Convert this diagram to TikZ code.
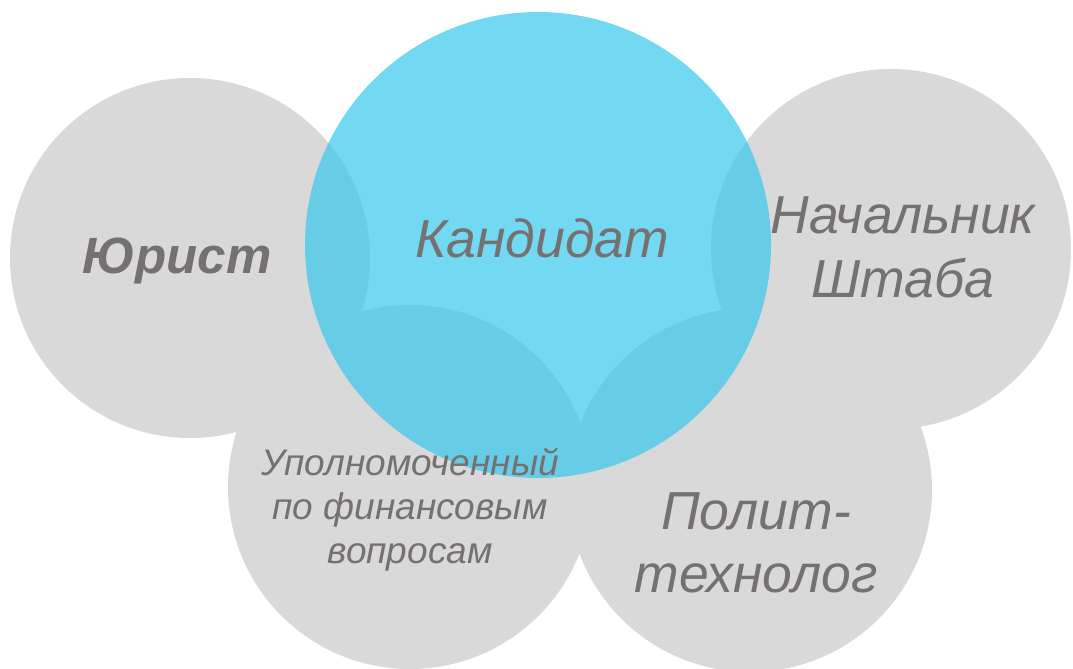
\documentclass[tikz,border=0pt]{standalone}
\usepackage{fontspec}
\setmainfont{Liberation Sans}
\definecolor{grayC}{RGB}{217,217,217}
\definecolor{cyanC}{RGB}{55,199,236}
\definecolor{textC}{RGB}{118,113,113}
\begin{document}
\begin{tikzpicture}[x=1bp,y=-1bp,role/.style={fill=grayC},roleK/.style={fill=cyanC,fill opacity=0.7},label/.style={text=textC,font=\itshape,align=center,anchor=base,inner sep=0pt}]
\def\rs{180};
\def\rk{233};

\useasboundingbox (0,0) rectangle (1073,669);

\fill[role] (190,258) circle (\rs);
\fill[role] (891,249) circle (\rs);
\fill[role] (410,487) circle (\rs+2);
\fill[role] (750,490) circle (\rs+2);
\fill[roleK] (538,245) circle (\rk);

\node[label,font=\bfseries\itshape\fontsize{51bp}{60bp}\selectfont] (jur) at (177,273) {Юрист};
\node[label,font=\itshape\fontsize{53.5bp}{66bp}\selectfont] (kand) at (542,257) {Кандидат};
\node[label,font=\itshape\fontsize{53.5bp}{64bp}\selectfont] (nach) at (903,297) {Начальник\\Штаба};
\node[label,font=\itshape\fontsize{53.5bp}{63bp}\selectfont] (polit) at (756,592) {Полит-\\технолог};
\node[label,font=\itshape\fontsize{37bp}{44bp}\selectfont] (upol) at (410,563) {Уполномоченный\\по финансовым\\вопросам};
\end{tikzpicture}
\end{document}
